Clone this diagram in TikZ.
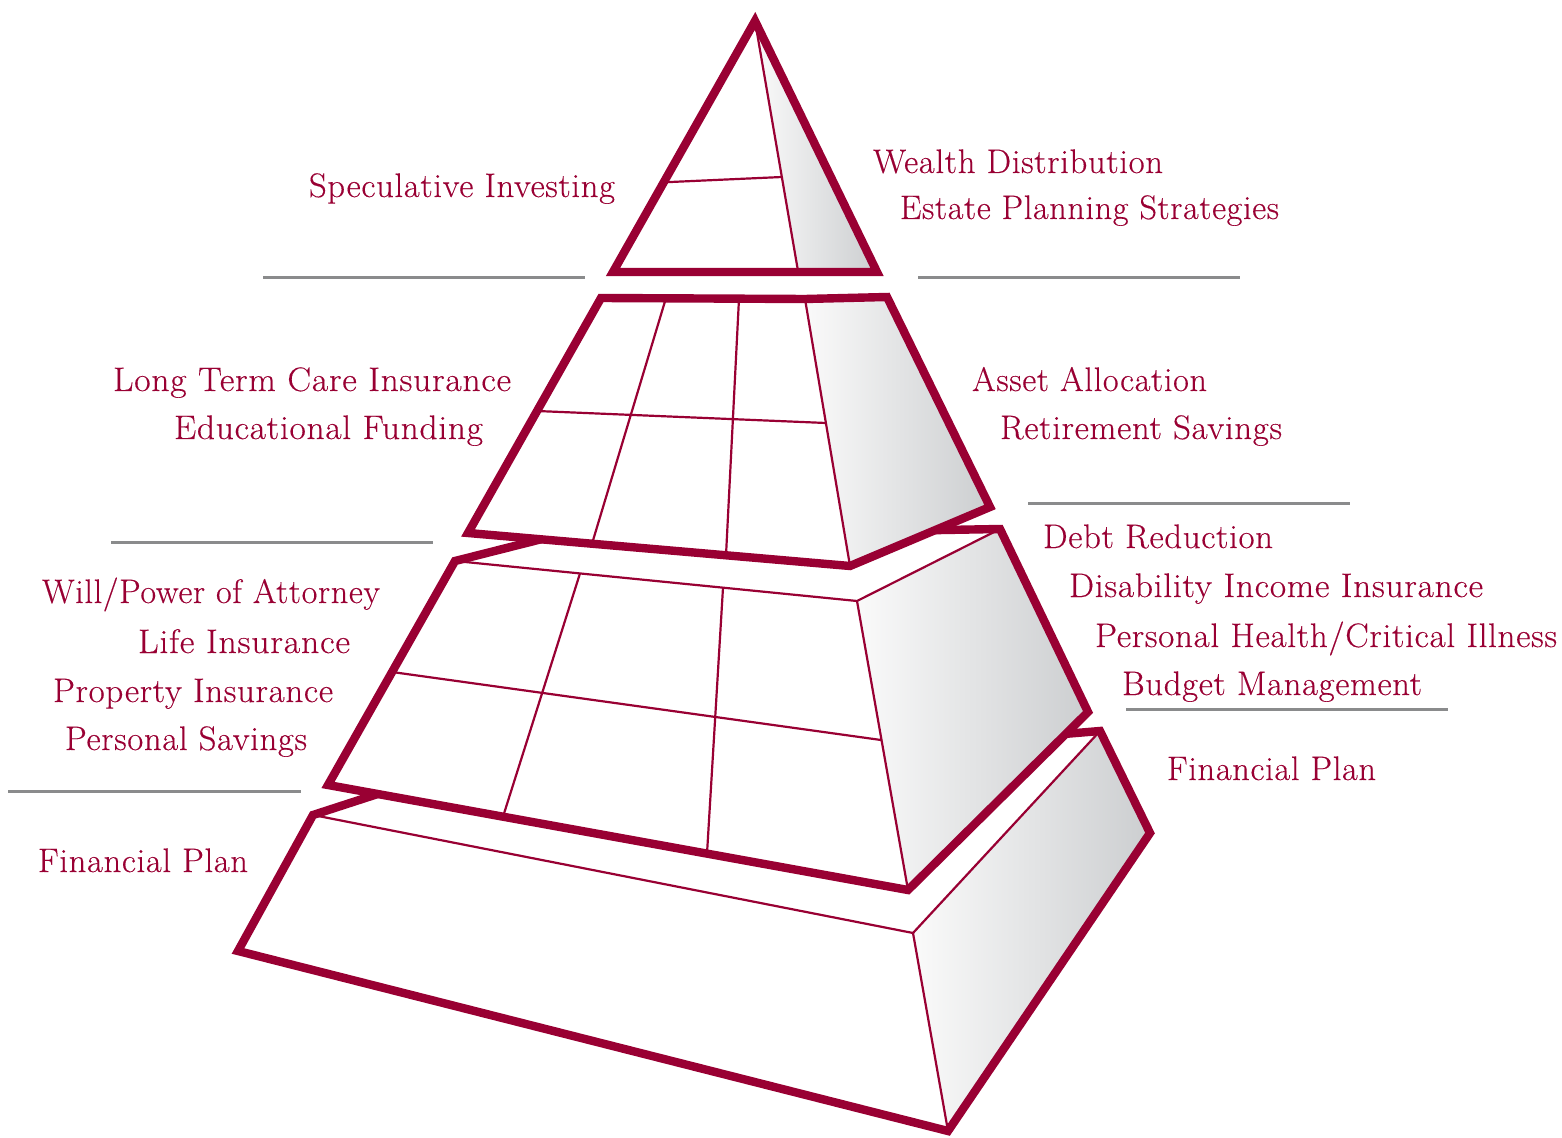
\documentclass[tikz,border=0pt]{standalone}
\usepackage{fontspec}
\setmainfont{Latin Modern Roman}[LetterSpace=2,FakeBold=0.3]
\usepackage{graphicx}
\definecolor{crim}{RGB}{153,0,51}
\definecolor{rule}{RGB}{138,139,140}
\definecolor{shL}{RGB}{250,250,250}
\definecolor{shR}{RGB}{204,206,208}
\newcommand\fitw[2]{\resizebox{#1}{\height}{#2}}
\tikzset{
  outline/.style={draw=crim, line width=4.2pt, line join=miter, miter limit=10},
  inner/.style={draw=crim, line width=1.1pt},
  face/.style={left color=shL, right color=shR},
  grayrule/.style={draw=rule, line width=1.5pt},
  lbl/.style={text=crim, inner sep=0pt, outer sep=0pt, anchor=base west, font=\fontsize{17}{20}\selectfont}
}
\begin{document}
\begin{tikzpicture}[x=0.5pt,y=-0.5pt]
\useasboundingbox (0,0) rectangle (1562,1138);

% ---------- Tier 4 (base) ----------
\coordinate (A4) at (313,815);
\coordinate (B4) at (390,790);
\coordinate (C4) at (1100,731);
\coordinate (D4) at (1150,833);
\coordinate (E4) at (948,1131);
\coordinate (F4) at (238,951);
\coordinate (G4) at (913,933);
\fill[white] (A4) -- (B4) -- (C4) -- (D4) -- (E4) -- (F4) -- cycle;
\shade[face] (G4) -- (C4) -- (D4) -- (E4) -- cycle;
\draw[inner] (A4) -- (G4) -- (C4);
\draw[inner] (G4) -- (E4);
\draw[outline] (A4) -- (B4) -- (C4) -- (D4) -- (E4) -- (F4) -- cycle;

% ---------- Tier 3 ----------
\coordinate (A3) at (455,561);
\coordinate (B3) at (550,537);
\coordinate (C3) at (1000,529);
\coordinate (D3) at (1088,712);
\coordinate (E3) at (908,890);
\coordinate (F3) at (328,785);
\coordinate (G3) at (857,601);
\fill[white] (A3) -- (B3) -- (C3) -- (D3) -- (E3) -- (F3) -- cycle;
\shade[face] (G3) -- (C3) -- (D3) -- (E3) -- cycle;
\draw[inner] (A3) -- (G3) -- (C3);
\draw[inner] (G3) -- (E3);
\draw[inner] (580,573.4) -- (503,816.7);
\draw[inner] (723,587.7) -- (707,853.6);
\draw[inner] (392,672) -- (881,740);
\draw[outline] (A3) -- (B3) -- (C3) -- (D3) -- (E3) -- (F3) -- cycle;

% ---------- Tier 2 ----------
\coordinate (A2) at (601,298);
\coordinate (G2) at (805,299);
\coordinate (C2) at (887,297);
\coordinate (D2) at (990,507);
\coordinate (E2) at (850,566);
\coordinate (F2) at (468,533);
\fill[white] (A2) -- (G2) -- (C2) -- (D2) -- (E2) -- (F2) -- cycle;
\shade[face] (G2) -- (C2) -- (D2) -- (E2) -- cycle;
\draw[inner] (G2) -- (E2);
\draw[inner] (666,298) -- (592,543.7);
\draw[inner] (739,298.5) -- (726,555.3);
\draw[inner] (537,411) -- (826,423);
\draw[outline] (A2) -- (G2) -- (C2) -- (D2) -- (E2) -- (F2) -- cycle;

% ---------- Tier 1 (top) ----------
\coordinate (P1) at (755,21);
\coordinate (R1) at (877,272);
\coordinate (L1) at (613,272);
\coordinate (M1) at (798,271);
\fill[white] (P1) -- (R1) -- (L1) -- cycle;
\shade[face] (P1) -- (R1) -- (M1) -- cycle;
\draw[inner] (P1) -- (M1);
\draw[inner] (664,182.3) -- (782,177);
\draw[outline] (P1) -- (R1) -- (L1) -- cycle;

% ---------- gray rules ----------
\draw[grayrule] (263,278) -- (585,278);
\draw[grayrule] (918,278) -- (1240,278);
\draw[grayrule] (1028,504) -- (1350,504);
\draw[grayrule] (111,542) -- (433,542);
\draw[grayrule] (1126,709) -- (1448,709);
\draw[grayrule] (8,791) -- (301,791);

% ---------- labels ----------
\node[lbl] (spec) at (309,197) {\fitw{153pt}{Speculative Investing}};
\node[lbl] (wealth) at (873,173) {\fitw{145pt}{Wealth Distribution}};
\node[lbl] (estate) at (900,219) {\fitw{189.5pt}{Estate Planning Strategies}};
\node[lbl] (ltc) at (113,391) {\fitw{199pt}{Long Term Care Insurance}};
\node[lbl] (edu) at (174,439) {\fitw{154.5pt}{Educational Funding}};
\node[lbl] (asset) at (972,391) {\fitw{117.5pt}{Asset Allocation}};
\node[lbl] (retire) at (1000,439) {\fitw{141pt}{Retirement Savings}};
\node[lbl] (debt) at (1043,548) {\fitw{115pt}{Debt Reduction}};
\node[lbl] (disab) at (1069,597) {\fitw{207pt}{Disability Income Insurance}};
\node[lbl] (health) at (1095,647) {\fitw{231pt}{Personal Health/Critical Illness}};
\node[lbl] (budget) at (1122,695) {\fitw{150pt}{Budget Management}};
\node[lbl] (will) at (42,603) {\fitw{169pt}{Will/Power of Attorney}};
\node[lbl] (life) at (138,653) {\fitw{106pt}{Life Insurance}};
\node[lbl] (prop) at (53,702) {\fitw{140pt}{Property Insurance}};
\node[lbl] (psav) at (65,750) {\fitw{121pt}{Personal Savings}};
\node[lbl] (fpl) at (38,872) {\fitw{105pt}{Financial Plan}};
\node[lbl] (fpr) at (1167,780) {\fitw{104.5pt}{Financial Plan}};
\end{tikzpicture}
\end{document}
